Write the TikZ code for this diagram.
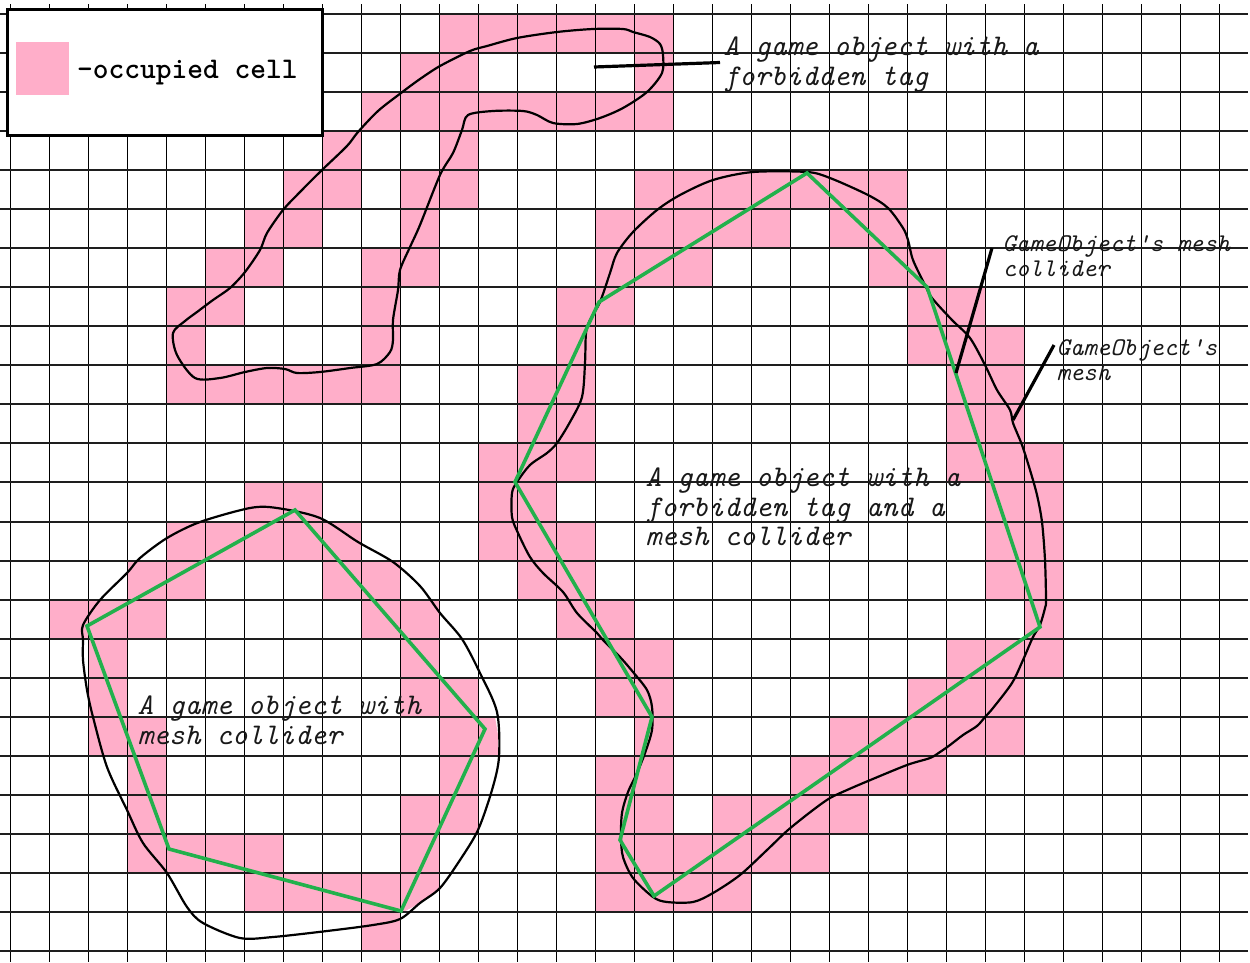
\documentclass[tikz,border=0pt]{standalone}
\definecolor{cellpink}{HTML}{FFAEC9}
\definecolor{colgreen}{HTML}{22B14C}
\definecolor{hgrid}{HTML}{1E1E1E}
\tikzset{
  gridv/.style={line width=1.1pt,black},
  gridh/.style={line width=1.25pt,hgrid},
  meshline/.style={line width=2.2pt,black,line join=round},
  collider/.style={line width=3.6pt,colgreen,line join=miter},
  leader/.style={line width=3.2pt,black},
  label/.style={inner sep=0pt,anchor=north west,align=left,text=black!90,font=\fontsize{30}{29.3}\selectfont\ttfamily\itshape},
  smalllabel/.style={inner sep=0pt,anchor=north west,align=left,text=black!90,font=\fontsize{25.5}{25.5}\selectfont\ttfamily\itshape},
  legendbox/.style={draw=black,line width=3.4pt,fill=white},
}
\begin{document}
\begin{tikzpicture}[x=1pt,y=-1pt]
\useasboundingbox (0,0) rectangle (1250,962);
% occupied cells
\foreach \j/\L in {
 0/{11,12,13,14,15,16},
 1/{10,11,16},
 2/{9,10,11,12,13,14,15,16},
 3/{8,11},
 4/{7,8,10,11,16,17,18,19,20,21,22},
 5/{6,7,10,15,16,17,18,19,21,22},
 6/{5,6,9,10,15,16,17,22,23},
 7/{4,5,9,14,15,23,24},
 8/{4,9,14,23,24,25},
 9/{4,5,6,7,8,9,13,14,24,25},
 10/{13,14,24,25},
 11/{12,13,14,24,25,26},
 12/{6,7,12,13,25,26},
 13/{4,5,6,7,8,12,13,14,25,26},
 14/{3,4,8,9,13,14,25,26},
 15/{1,2,3,9,10,14,15,26},
 16/{2,10,15,16,24,25,26},
 17/{2,10,11,15,16,23,24,25},
 18/{2,3,11,16,21,22,23,24,25},
 19/{3,11,15,16,20,21,22,23},
 20/{3,10,11,15,16,18,19,20,21},
 21/{3,4,5,6,10,15,16,17,18,19,20},
 22/{6,7,8,9,15,16,17,18},
 23/{9}}{
  \foreach \i in \L {
    \fill[cellpink] ({10+39*\i},{14+39.04*\j}) rectangle ({10+39*(\i+1)},{14+39.04*(\j+1)});
  }
}
% cells cut off by the outline
\fill[cellpink] (478,717) -- (495,717) -- (498,735) -- (498,756) -- (478,756) -- cycle;
\fill[cellpink] (400,873) -- (439,873) -- (439,890) -- (420,903) -- (400,914) -- cycle;
% grid
\foreach \k in {0,...,31} { \draw[gridv] ({10.5+39*\k},4) -- ({10.5+39*\k},962); }
\foreach \j in {0,...,24} { \draw[gridh] (0,{round(14+39.04*\j)}) -- (1248,{round(14+39.04*\j)}); }
% mesh outlines
\draw[meshline] plot[smooth cycle,tension=0.5] coordinates {
 (623,29)(593,29)(557,32)(517,38)(487,46)(470,51)(440,66)(420,79)(401,93)(378,111)(358,132)(347,146)
 (322,170)(300,192)(283,210)(267,233)(260,250)(245,272)(230,288)(213,300)(197,312)(185,321)
 (173,333)(177,355)(195,378)(220,378)(245,372)(267,368)(285,369)(297,373)(320,372)(350,368)
 (377,364)(390,352)(393,340)(393,320)(398,290)(400,270)(410,247)(420,225)(440,175)(453,153)
 (462,130)(468,115)(493,111)(523,111)(537,115)(553,123)(577,124)(600,118)(623,108)(647,92)
 (662,73)(663,55)(660,44)(650,37)(633,32)};
\draw[meshline] plot[smooth cycle,tension=0.5] coordinates {
 (753,172)(807,172)(830,178)(868,195)(888,208)(903,228)(908,240)(913,260)(925,285)(932,298)(952,320)
 (970,338)(985,365)(997,390)(1010,410)(1013,423)(1022,445)(1030,470)(1037,495)(1042,522)(1045,560)
 (1046,600)(1045,608)(1040,625)(1033,637)(1023,660)(1012,683)(993,708)(985,717)(977,726)(963,735)
 (950,745)(940,752)(930,758)(907,765)(868,781)(847,790)(830,798)(813,810)(788,830)(767,850)(740,875)
 (713,893)(693,902)(667,902)(653,897)(633,878)(623,857)(621,837)(622,813)(628,792)(637,773)(645,753)
 (652,730)(652,707)(647,690)(633,672)(620,657)(603,640)(597,633)(577,613)(563,592)(543,573)(530,557)
 (518,533)(512,517)(512,493)(517,482)(530,465)(547,453)(557,443)(570,422)(582,397)(585,363)(586,333)
 (590,320)(600,302)(610,273)(617,253)(633,232)(657,210)(680,195)(713,180)};
\draw[meshline] plot[smooth cycle,tension=0.5] coordinates {
 (83,625)(100,600)(127,573)(140,558)(167,538)(200,522)(250,508)(277,508)(320,518)(358,542)(393,562)
 (420,586)(440,613)(462,639)(480,673)(497,712)(499,757)(492,790)(478,830)(460,860)(440,888)(420,903)
 (400,919)(373,925)(327,931)(273,937)(240,938)(203,923)(187,907)(167,873)(143,843)(127,810)(107,767)
 (93,717)(87,690)(83,660)(83,640)};
% mesh colliders
\draw[collider] (807,173) -- (927,287) -- (1040,627) -- (654,896) -- (620,840) -- (652,717) -- (515,482) -- (599,302) -- cycle;
\draw[collider] (87,626) -- (295,510) -- (485,729) -- (401,911) -- (169,849) -- cycle;
% legend
\node[legendbox,minimum width=315pt,minimum height=126pt,anchor=north west,inner sep=0pt] (legend) at (6,7.5) {};
\fill[cellpink] (16,42) rectangle (69,95);
\node[inner sep=0pt,anchor=base west,text=black,font=\fontsize{30}{30}\selectfont\ttfamily\bfseries] (legendtext) at (77,78) {-occupied cell};
% labels
\node[label] (tagged) at (723.5,37) {A game object with a\\forbidden tag};
\node[label] (both) at (645.5,468) {A game object with a\\forbidden tag and a\\mesh collider};
\node[label] (collided) at (137.5,696) {A game object with\\mesh collider};
\node[smalllabel] (meshcol) at (1002.5,235) {GameObject's mesh\\collider};
\node[smalllabel] (meshlab) at (1056.5,339) {GameObject's\\mesh};
% leaders
\coordinate (tagA) at (720,62.5);
\coordinate (tagB) at (594,67);
\coordinate (colA) at (992,248);
\coordinate (colB) at (956,373);
\coordinate (meshA) at (1054,345);
\coordinate (meshB) at (1013,420);
\draw[leader] (tagA) -- (tagB);
\draw[leader] (colA) -- (colB);
\draw[leader] (meshA) -- (meshB);
\end{tikzpicture}
\end{document}
